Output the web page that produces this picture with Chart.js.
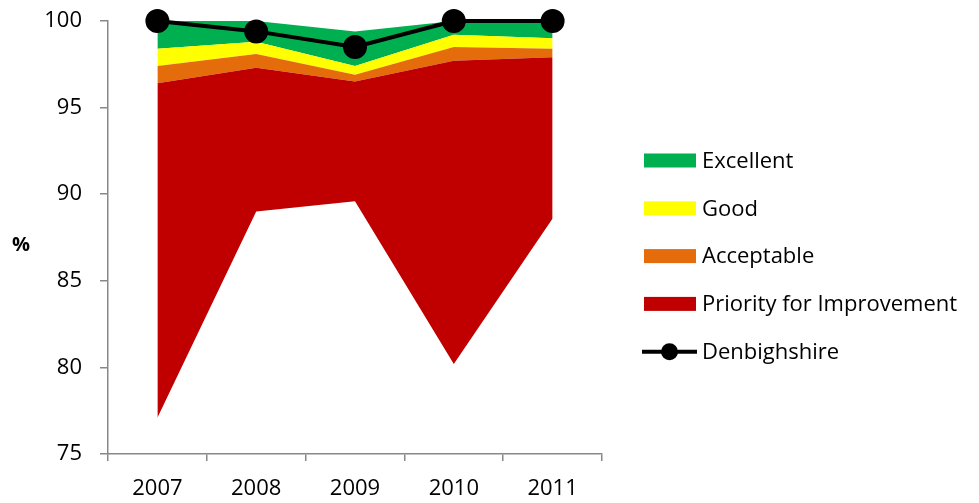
<!DOCTYPE html>
<html>
<head>
<meta charset="utf-8">
<script src="https://cdn.jsdelivr.net/npm/chart.js@4.4.1/dist/chart.umd.min.js"></script>
<style>
  html, body { margin: 0; padding: 0; background: #fff; }
  #wrap { width: 979px; height: 503px; position: relative; }
</style>
</head>
<body>
<div id="wrap"><canvas id="myChart"></canvas></div>
<script>
const anios = ['2007', '2008', '2009', '2010', '2011'];
const ticksY = [75, 80, 85, 90, 95, 100];

// bottom of the coloured bands, then the thickness of each band
const base = [77.1, 89.0, 89.6, 80.2, 88.6];
const prioridad = [19.3, 8.3, 6.9, 17.5, 9.3];
const aceptable = [1.0, 0.8, 0.4, 0.8, 0.5];
const bueno = [1.0, 0.7, 0.5, 0.7, 0.6];
const excelente = [1.6, 1.2, 2.0, 0.8, 1.0];
const denbighshire = [100, 99.4, 98.5, 100, 100];

const fuente = '"Open Sans", Lato, sans-serif';

function banda(label, data, color) {
  return {
    label, data,
    stack: 'bandas',
    backgroundColor: color,
    borderColor: color,
    borderWidth: 0,
    pointRadius: 0,
    tension: 0,
    fill: '-1',
    order: 2
  };
}

// legend on the right, drawn by hand so boxes and the marker line sit like the original
const leyenda = {
  id: 'leyenda',
  afterDraw(chart) {
    const ctx = chart.ctx;
    const ds = chart.data.datasets;
    const items = [ds[4], ds[3], ds[2], ds[1], ds[5]];
    ctx.save();
    ctx.font = '22px ' + fuente;
    ctx.textBaseline = 'middle';
    items.forEach((d, i) => {
      const y = 160.5 + i * 47.8;
      if (d.type === 'line' && d.pointRadius) {
        ctx.strokeStyle = d.borderColor;
        ctx.lineWidth = 4;
        ctx.beginPath();
        ctx.moveTo(642, y);
        ctx.lineTo(697, y);
        ctx.stroke();
        ctx.fillStyle = d.pointBackgroundColor;
        ctx.beginPath();
        ctx.arc(669.5, y, 8.5, 0, Math.PI * 2);
        ctx.fill();
      } else {
        ctx.fillStyle = d.backgroundColor;
        ctx.fillRect(644, y - 7, 52, 14);
      }
      ctx.fillStyle = '#000';
      ctx.fillText(d.label, 702, y + 1);
    });
    ctx.font = 'bold 20px ' + fuente;
    ctx.textAlign = 'center';
    ctx.fillText('%', 21, 245);
    ctx.restore();
  }
};

const ctx = document.getElementById('myChart');
new Chart(ctx, {
  type: 'line',
  data: {
    labels: anios,
    datasets: [
      {
        label: '',
        data: base,
        stack: 'bandas',
        backgroundColor: 'rgba(0,0,0,0)',
        borderWidth: 0,
        pointRadius: 0,
        fill: false,
        order: 2
      },
      banda('Priority for Improvement', prioridad, '#C00000'),
      banda('Acceptable', aceptable, '#E46C0A'),
      banda('Good', bueno, '#FFFF00'),
      banda('Excellent', excelente, '#00B050'),
      {
        type: 'line',
        label: 'Denbighshire',
        data: denbighshire,
        stack: 'linea',
        borderColor: '#000',
        borderWidth: 4,
        pointRadius: 10,
        pointBackgroundColor: '#000',
        pointBorderColor: '#000',
        tension: 0,
        fill: false,
        clip: false,
        order: 1
      }
    ]
  },
  options: {
    responsive: true,
    maintainAspectRatio: false,
    animation: false,
    layout: { autoPadding: false, padding: { top: 21, right: 377, bottom: 2, left: 46 } },
    plugins: {
      legend: { display: false },
      tooltip: { enabled: false }
    },
    scales: {
      x: {
        offset: true,
        afterFit: axis => { axis.height = 47; },
        grid: {
          offset: true,
          drawOnChartArea: false,
          drawTicks: true,
          tickLength: 7,
          color: '#888',
          lineWidth: 1.5
        },
        border: { color: '#888', width: 1.5 },
        ticks: { color: '#000', font: { family: fuente, size: 22 }, padding: 15 }
      },
      y: {
        stacked: true,
        min: 75,
        max: 100,
        afterBuildTicks: axis => { axis.ticks = ticksY.map(v => ({ value: v })); },
        afterFit: axis => {
          axis.width = 62;
          axis.paddingTop = 12;
          axis.paddingBottom = 12;
        },
        grid: {
          drawOnChartArea: false,
          drawTicks: true,
          tickLength: 8,
          color: '#888',
          lineWidth: 1.5
        },
        border: { color: '#888', width: 1.5 },
        ticks: { color: '#000', font: { family: fuente, size: 22 }, padding: 18 }
      }
    }
  },
  plugins: [leyenda]
});
</script>
</body>
</html>
